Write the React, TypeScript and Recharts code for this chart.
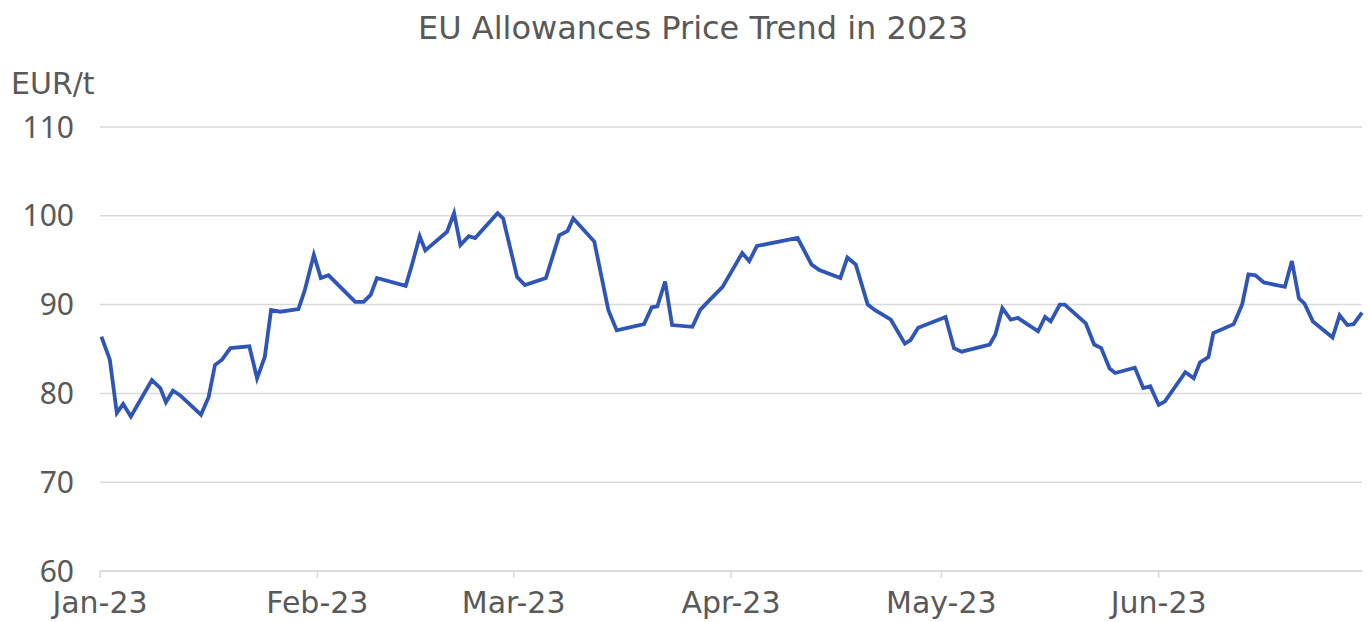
import React from 'react';
import { LineChart, Line, XAxis, YAxis, CartesianGrid } from 'recharts';

// day offset from 1 Jan 2023
const days = [
  0.2, 1.4, 2.4, 3.3, 4.4, 7.4, 8.6, 9.4, 10.4, 11.4, 14.4, 15.5, 16.4, 17.4, 18.6, 21.3, 22.4, 23.5, 24.4, 25.7,
  28.3, 29.2, 30.5, 31.5, 32.6, 36.4, 37.6, 38.6, 39.5, 43.6, 44.5, 45.6, 46.4, 49.5, 50.5, 51.4, 52.6, 53.5,
  56.7, 57.5, 59.5, 60.6, 63.6, 65.5, 66.7, 67.5, 70.5, 72.5, 73.7, 77.6, 78.7, 79.5, 80.6, 81.6, 84.5, 85.6,
  86.7, 88.8, 91.6, 92.6, 93.7, 99.5, 101.5, 102.6, 105.6, 106.6, 107.8, 109.5, 110.5, 112.8, 114.8, 115.6,
  116.7, 120.6, 121.8, 122.9, 126.9, 127.7, 128.7, 129.9, 130.9, 133.8, 134.8, 135.6, 136.9, 137.6, 140.6,
  141.8, 142.8, 144.0, 144.8, 147.6, 148.8, 149.8, 151.0, 151.9, 154.8, 156.0, 156.9, 158.1, 158.8, 161.7,
  162.9, 163.8, 164.8, 166.0, 169.0, 170.0, 171.0, 171.8, 173.0, 175.8, 176.8, 177.9, 178.8, 180.0,
];

const prices = [
  86.4, 83.8, 77.8, 78.8, 77.4, 81.5, 80.6, 79.0, 80.3, 79.8, 77.6, 79.6, 83.2, 83.8, 85.1, 85.3, 81.7, 84.1, 89.4, 89.2,
  89.5, 91.6, 95.6, 93.0, 93.3, 90.3, 90.3, 91.1, 93.0, 92.1, 94.5, 97.7, 96.1, 98.2, 100.3, 96.7, 97.7, 97.5,
  100.3, 99.7, 93.1, 92.2, 93.0, 97.8, 98.3, 99.7, 97.1, 89.4, 87.1, 87.8, 89.7, 89.8, 92.6, 87.7, 87.5, 89.4,
  90.3, 92.0, 95.8, 94.9, 96.6, 97.5, 94.5, 93.9, 93.0, 95.3, 94.5, 90.0, 89.4, 88.3, 85.6, 86.0,
  87.4, 88.6, 85.1, 84.7, 85.5, 86.6, 89.6, 88.3, 88.5, 87.0, 88.6, 88.1, 90.0, 90.0, 87.9,
  85.5, 85.1, 82.8, 82.3, 82.9, 80.6, 80.8, 78.7, 79.1, 82.4, 81.7, 83.5, 84.1, 86.8, 87.8,
  90.0, 93.4, 93.3, 92.5, 92.0, 94.9, 90.7, 90.1, 88.1, 86.3, 88.8, 87.7, 87.8, 89.1,
];

const monthTicks = [0, 31, 59, 90, 120, 151];
const monthLabels = ['Jan-23', 'Feb-23', 'Mar-23', 'Apr-23', 'May-23', 'Jun-23'];
const priceTicks = [60, 70, 80, 90, 100, 110];

const data = days.map((d, i) => ({ day: d, price: prices[i] }));

const wide = '"DejaVu Sans", sans-serif';
const narrow = '"Noto Sans", sans-serif';

export default function App() {
  return (
    <div style={{ position: 'absolute', left: 0, top: 0, width: 1369, height: 622, background: '#fff', fontFamily: wide }}>
      <div style={{ position: 'absolute', top: 9, left: 0, width: 1386, textAlign: 'center', fontSize: 32, color: '#595959' }}>
        EU Allowances Price Trend in 2023
      </div>
      <div style={{ position: 'absolute', top: 66, left: 11, fontSize: 30, color: '#595959' }}>EUR/t</div>
      <LineChart width={1369} height={622} data={data} margin={{ top: 127, right: 7, bottom: 0, left: 0 }}>
        <CartesianGrid vertical={false} stroke="#d9d9d9" strokeWidth={1.5} />
        <XAxis
          dataKey="day"
          type="number"
          domain={[0, 180]}
          ticks={monthTicks}
          tickFormatter={(v) => monthLabels[monthTicks.indexOf(v)]}
          stroke="#d9d9d9"
          strokeWidth={1.5}
          tickSize={7}
          tickMargin={14}
          tick={{ fill: '#595959', fontSize: 30, fontFamily: wide }}
          height={51}
          interval={0}
        />
        <YAxis
          domain={[60, 110]}
          ticks={priceTicks}
          axisLine={false}
          tickLine={false}
          tickSize={0}
          tickMargin={26}
          width={100}
          tick={{ fill: '#595959', fontSize: 30, fontFamily: narrow }}
          interval={0}
        />
        <Line
          type="linear"
          dataKey="price"
          stroke="#2f56b6"
          strokeWidth={3.8}
          dot={false}
          isAnimationActive={false}
        />
      </LineChart>
    </div>
  );
}
